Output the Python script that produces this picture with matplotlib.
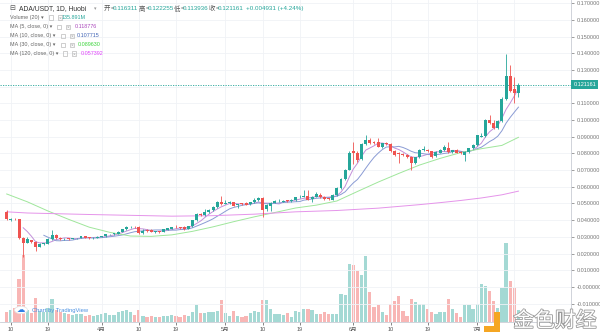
import numpy as np
import pandas as pd
import matplotlib
matplotlib.use("Agg")
import matplotlib.pyplot as plt
from matplotlib.patches import Rectangle, Circle
import matplotlib.patheffects as pe

plt.rcParams['font.family'] = ['Liberation Sans', 'Noto Sans CJK SC', 'DejaVu Sans']

# ADA/USDT daily candles, 2020-03-09 .. 2020-07-11
opens = [.0450, .0403, .0408, .0405, .0295, .0266, .0280, .0270, .0242, .0259,
         .0258, .0290, .0311, .0294, .0286, .0289, .0288, .0291, .0294, .0303,
         .0297, .0292, .0295, .0300, .0304, .0315, .0317, .0320, .0330, .0345,
         .0358, .0362, .0360, .0325, .0340, .0342, .0330, .0333, .0330, .0343,
         .0350, .0361, .0358, .0360, .0348, .0364, .0400, .0438, .0433, .0448,
         .0460, .0478, .0510, .0499, .0500, .0506, .0492, .0500, .0503, .0495,
         .0508, .0518, .0531, .0465, .0482, .0505, .0514, .0510, .0518, .0512,
         .0518, .0537, .0541, .0545, .0525, .0541, .0553, .0538, .0530, .0522,
         .0551, .0591, .0645, .0703, .0812, .0800, .0765, .0858, .0878, .0866,
         .0870, .0841, .0860, .0855, .0812, .0802, .0797, .0790, .0778, .0740,
         .0776, .0820, .0822, .0812, .0782, .0805, .0818, .0832, .0808, .0820,
         .0808, .0790, .0806, .0830, .0848, .0900, .0905, .1000, .0983, .0951,
         .0994, .1127, .1262, .1186, .116311]
highs = [.0458, .0412, .0413, .0408, .0300, .0301, .0284, .0275, .0265, .0266,
         .0296, .0340, .0316, .0298, .0292, .0293, .0294, .0296, .0306, .0306,
         .0300, .0299, .0303, .0307, .0318, .0320, .0323, .0334, .0348, .0363,
         .0364, .0366, .0363, .0345, .0345, .0348, .0337, .0336, .0348, .0355,
         .0360, .0371, .0362, .0363, .0367, .0404, .0440, .0445, .0465, .0468,
         .0484, .0514, .0545, .0521, .0514, .0510, .0498, .0504, .0507, .0510,
         .0534, .0536, .0537, .0495, .0509, .0518, .0526, .0521, .0522, .0525,
         .0541, .0552, .0580, .0578, .0546, .0571, .0560, .0542, .0535, .0555,
         .0597, .0650, .0708, .0812, .0870, .0815, .0862, .0908, .0895, .0872,
         .0890, .0864, .0866, .0860, .0818, .0808, .0802, .0795, .0782, .0780,
         .0825, .0844, .0828, .0816, .0814, .0825, .0850, .0870, .0822, .0825,
         .0812, .0815, .0835, .0858, .0912, .0920, .1005, .1030, .0998, .0998,
         .1135, .1393, .1330, .1259, .122255]
lows = [.0400, .0398, .0400, .0285, .0180, .0262, .0262, .0218, .0238, .0252,
        .0255, .0284, .0288, .0282, .0281, .0284, .0285, .0287, .0291, .0293,
        .0289, .0289, .0292, .0297, .0301, .0310, .0313, .0317, .0327, .0342,
        .0352, .0354, .0318, .0320, .0332, .0327, .0326, .0325, .0327, .0339,
        .0347, .0354, .0350, .0344, .0345, .0362, .0397, .0425, .0428, .0443,
        .0456, .0475, .0492, .0494, .0496, .0482, .0471, .0489, .0488, .0491,
        .0504, .0514, .0421, .0455, .0452, .0500, .0509, .0506, .0508, .0509,
        .0514, .0532, .0537, .0518, .0511, .0537, .0533, .0519, .0521, .0518,
        .0547, .0586, .0640, .0698, .0735, .0750, .0760, .0852, .0858, .0856,
        .0836, .0835, .0848, .0806, .0785, .0744, .0783, .0770, .0701, .0735,
        .0772, .0814, .0810, .0775, .0778, .0800, .0814, .0802, .0802, .0800,
        .0795, .0752, .0800, .0826, .0844, .0896, .0900, .0978, .0948, .0946,
        .0990, .1122, .1170, .1102, .113936]
closes = [.0405, .0408, .0405, .0293, .0262, .0290, .0268, .0240, .0260, .0262,
          .0290, .0311, .0294, .0286, .0289, .0288, .0291, .0294, .0303, .0296,
          .0292, .0296, .0300, .0304, .0315, .0317, .0320, .0330, .0345, .0360,
          .0361, .0358, .0322, .0338, .0337, .0330, .0333, .0331, .0345, .0352,
          .0357, .0358, .0355, .0347, .0364, .0400, .0434, .0431, .0451, .0462,
          .0480, .0510, .0497, .0503, .0510, .0486, .0494, .0494, .0492, .0507,
          .0521, .0531, .0461, .0490, .0505, .0514, .0517, .0517, .0512, .0521,
          .0537, .0541, .0545, .0521, .0541, .0557, .0538, .0527, .0527, .0551,
          .0591, .0645, .0700, .0800, .0800, .0762, .0856, .0880, .0865, .0864,
          .0841, .0860, .0855, .0812, .0792, .0798, .0790, .0777, .0740, .0776,
          .0820, .0822, .0816, .0780, .0810, .0821, .0836, .0806, .0818, .0805,
          .0800, .0810, .0830, .0852, .0908, .0905, .1000, .0983, .0951, .0994,
          .1127, .1262, .1175, .116311, .121161]
# volume, millions
volumes = [113, 136, 158, 486, 757, 136, 102, 271, 124, 113,
           158, 260, 136, 113, 102, 90, 79, 90, 90, 68,
           79, 68, 79, 90, 102, 79, 79, 113, 124, 136,
           113, 79, 136, 68, 57, 68, 57, 57, 68, 68,
           79, 68, 57, 79, 68, 113, 192, 102, 102, 113,
           113, 124, 249, 102, 68, 124, 68, 57, 68, 102,
           124, 113, 249, 249, 147, 90, 90, 79, 102, 57,
           124, 113, 147, 147, 136, 90, 90, 113, 90, 90,
           90, 316, 305, 655, 644, 576, 531, 746, 339, 170,
           192, 113, 79, 203, 237, 294, 124, 68, 260, 226,
           203, 203, 147, 113, 90, 113, 113, 260, 147, 102,
           57, 192, 192, 147, 203, 429, 407, 350, 237, 158,
           384, 893, 463, 384, 135.891]

# longer moving averages, read every few sessions
ma30_idx = [0, 5, 10, 15, 20, 25, 30, 35, 40, 45, 50, 55, 60, 65, 70, 75, 80,
            85, 90, 95, 100, 105, 110, 115, 120, 124]
ma30_val = [.0557, .0510, .0455, .0405, .0358, .0327, .0305, .0303, .0312, .0333,
            .0360, .0391, .0420, .0446, .0473, .0490, .0515, .0572, .0628, .0680,
            .0730, .0770, .0805, .0828, .0848, .089630]
ma120_idx = [0, 5, 10, 20, 30, 40, 50, 60, 70, 80, 90, 100, 105, 110, 115, 120, 124]
ma120_val = [.0450, .0443, .0440, .0434, .0429, .0424, .0427, .0436, .0450, .0458,
             .0472, .0493, .0505, .0518, .0533, .0552, .057392]

tick_idx = [1, 10, 23, 32, 41, 53, 62, 71, 84, 93, 102, 114, 123]
tick_lab = ['10', '19', '4月', '10', '19', '5月', '10', '19', '6月', '10', '19', '7月', '']
price_ticks = np.round(np.arange(-0.01, 0.1701, 0.01), 2)

UP, DOWN = '#26a69a', '#ef5350'
o = np.array(opens); h = np.array(highs); l = np.array(lows); c = np.array(closes)
x = np.arange(len(c))
up = c >= o
colors = np.where(up, UP, DOWN)

s = pd.Series(c)
ma5 = s.rolling(5).mean()
ma10 = s.rolling(10).mean()

fig = plt.figure(figsize=(6, 3.36), dpi=100)
pos = [0, 14 / 336, 571 / 600, 322 / 336]
vax = fig.add_axes(pos, zorder=0)
ax = fig.add_axes(pos, zorder=1)
ax.patch.set_alpha(0)

xlim = (-6.7 / 4.127, (571 - 6.7) / 4.127)

# volume pane
vax.bar(x, volumes, width=0.78, color=colors, alpha=0.42, linewidth=0)
vax.set_xlim(xlim)
vax.set_ylim(0, 322 * 11.3)
vax.axis('off')

# grid
for t in price_ticks:
    ax.axhline(t, color='#f0f2f6', lw=0.6, zorder=0)
for t in tick_idx:
    ax.axvline(t, color='#f0f2f6', lw=0.6, zorder=0)

# candles
ax.vlines(x, l, h, colors=colors, lw=0.6, zorder=3)
body = np.maximum(np.abs(c - o), 0.00035)
ax.bar(x, body, bottom=np.minimum(o, c), width=0.72, color=colors, linewidth=0, zorder=4)

ax.plot(x, ma5, color='#c38fd9', lw=0.7, zorder=2)
ax.plot(x, ma10, color='#8a9bd4', lw=0.7, zorder=2)
ax.plot(ma30_idx, ma30_val, color='#9fe69b', lw=0.7, zorder=2)
ax.plot(ma120_idx, ma120_val, color='#e594ea', lw=0.7, zorder=2)

last = closes[-1]
ax.axhline(last, color=UP, lw=0.6, ls=(0, (1.5, 1.5)), zorder=2)

ax.set_xlim(xlim)
ax.set_ylim(-0.021, 0.1719)
ax.yaxis.tick_right()
ax.set_yticks(price_ticks)
# the 0.12 label sits under the last-price tag
ylabels = ['-0.000000' if t == 0 else f'{t:.6f}' for t in price_ticks]
ylabels = ['' if abs(t - 0.12) < 1e-9 else lab for t, lab in zip(price_ticks, ylabels)]
ax.set_yticklabels(ylabels)
ax.tick_params(axis='y', labelsize=4.0, colors='#777777', length=2, pad=1.8, width=0.5)
ax.set_xticks(tick_idx)
ax.set_xticklabels(tick_lab)
ax.tick_params(axis='x', labelsize=4.0, colors='#555555', length=2, pad=1.5, width=0.5)
for side in ['top', 'left']:
    ax.spines[side].set_visible(False)
for side in ['right', 'bottom']:
    ax.spines[side].set_color('#c9ccd4')
    ax.spines[side].set_linewidth(0.6)

ax.text(1.004, last, f'{last:.6f}', transform=ax.get_yaxis_transform(),
        fontsize=4.0, color='white', va='center', ha='left', zorder=6,
        bbox=dict(boxstyle='square,pad=0.35', fc='#26a69a', ec='none'))


def fx(px):
    return px / 600


def fy(py):
    return 1 - py / 336


# header line
teal = '#26a69a'
fig.text(fx(9), fy(8.3), '⊟', fontsize=5, color='#555555', va='center')
fig.text(fx(19), fy(8.3), 'ADA/USDT, 1D, Huobi', fontsize=4.9, color='#333333', va='center')
fig.text(fx(94), fy(8.3), '▾', fontsize=3.6, color='#999999', va='center')
header = [('开', 104, '0.116311', 113), ('高', 139, '0.122255', 148),
          ('低', 174, '0.113936', 183), ('收', 209, '0.121161', 218)]
for name, nx, val, vx in header:
    fig.text(fx(nx), fy(8.3), name, fontsize=4.6, color='#555555', va='center')
    fig.text(fx(nx + 6.2), fy(8.3), '=', fontsize=4.5, color='#555555', va='center')
    fig.text(fx(vx), fy(8.3), val, fontsize=4.5, color=teal, va='center')
fig.text(fx(246), fy(8.3), '+0.004931 (+4.24%)', fontsize=4.5, color=teal, va='center')

# indicator rows
rows = [('Volume (20)', 17.7, 49, '135.891M', 62, teal),
        ('MA (5, close, 0)', 26.7, 57, '0.118776', 75, '#ab47bc'),
        ('MA (10, close, 0)', 35.7, 61, '0.107715', 77, '#3f63b5'),
        ('MA (30, close, 0)', 44.7, 61, '0.089630', 78, '#3ad43a'),
        ('MA (120, close, 0)', 53.7, 63, '0.057392', 81, '#e040fb')]
for name, ry, bx, val, vx, col in rows:
    fig.text(fx(10), fy(ry), name + ' ▾', fontsize=3.9, color='#666666', va='center')
    for k in range(2):
        fig.patches.append(Rectangle((fx(bx + 9 * k), fy(ry + 2.2)), 4.4 / 600, 4.4 / 336,
                                     transform=fig.transFigure, fill=False,
                                     ec='#bbbbbb', lw=0.5))
    fig.text(fx(bx + 11.2), fy(ry), '×', fontsize=3.5, color='#999999', va='center', ha='center')
    fig.text(fx(vx), fy(ry), val, fontsize=3.9, color=col, va='center')

# TradingView badge
fig.patches.append(Circle((fx(21), fy(310)), 6.5 / 600, transform=fig.transFigure,
                          fc='white', ec='#e6e6e6', lw=0.6, zorder=5))
fig.text(fx(21), fy(310), '☁', fontsize=6, color='#2e7ee6', ha='center', va='center',
         family='DejaVu Sans', zorder=6)
fig.text(fx(32), fy(310.5), 'Chart by TradingView', fontsize=4.2, color='#4a90e2',
         va='center', zorder=6)

# site watermark
fig.patches.append(Rectangle((fx(494), fy(332)), 6 / 600, 20 / 336, transform=fig.transFigure,
                             fc='#f5a623', ec='none', zorder=5))
fig.patches.append(Rectangle((fx(484), fy(332)), 16 / 600, 6 / 336, transform=fig.transFigure,
                             fc='#f5a623', ec='none', zorder=5))
fig.text(fx(555), fy(321), '金色财经', fontsize=15, color='white', ha='center', va='center',
         zorder=6, path_effects=[pe.withStroke(linewidth=1.2, foreground='#9a9a9a')])

fig.savefig('out.png', dpi=100)
